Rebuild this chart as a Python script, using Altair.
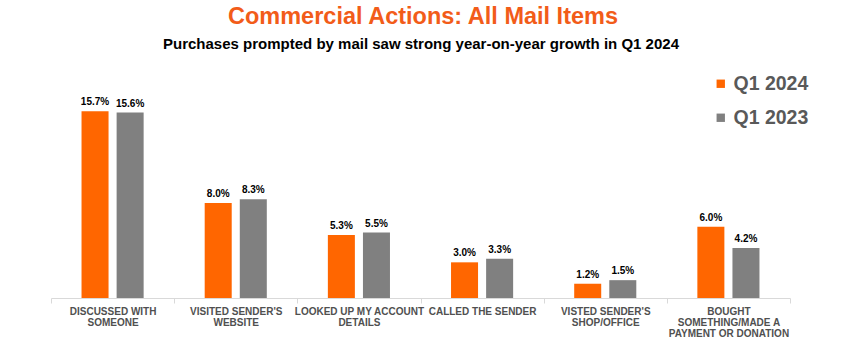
import altair as alt
import pandas as pd

categories = [
    "DISCUSSED WITH|SOMEONE",
    "VISITED SENDER'S|WEBSITE",
    "LOOKED UP MY ACCOUNT|DETAILS",
    "CALLED THE SENDER",
    "VISTED SENDER'S|SHOP/OFFICE",
    "BOUGHT|SOMETHING/MADE A|PAYMENT OR DONATION",
]
q1_2024 = [15.7, 8.0, 5.3, 3.0, 1.2, 6.0]
q1_2023 = [15.6, 8.3, 5.5, 3.3, 1.5, 4.2]
series = ["Q1 2024", "Q1 2023"]
colors = ["#FF6600", "#808080"]

rows = []
for c, a, b in zip(categories, q1_2024, q1_2023):
    rows.append({"cat": c, "series": series[0], "value": a, "label": f"{a:.1f}%"})
    rows.append({"cat": c, "series": series[1], "value": b, "label": f"{b:.1f}%"})
df = pd.DataFrame(rows)

FONT = "Liberation Sans"

base = alt.Chart(df).encode(
    x=alt.X(
        "cat:N",
        sort=categories,
        scale=alt.Scale(paddingInner=0, paddingOuter=0),
        axis=alt.Axis(
            title=None,
            labelAngle=0,
            labelExpr="split(datum.label, '|')",
            labelFont=FONT,
            labelFontWeight="bold",
            labelFontSize=10,
            labelColor="#505050",
            labelLineHeight=11,
            labelPadding=3,
            labelLimit=200,
            domainColor="#d9d9d9",
            tickColor="#d9d9d9",
            tickBand="extent",
            tickSize=5,
            labelBaseline="top",
        ),
    ),
    xOffset=alt.XOffset(
        "series:N",
        sort=series,
        scale=alt.Scale(paddingInner=0.23, paddingOuter=0.87),
    ),
    y=alt.Y(
        "value:Q",
        scale=alt.Scale(domain=[0, 18], nice=False),
        axis=None,
    ),
)

bars = base.mark_bar().encode(
    color=alt.Color(
        "series:N",
        sort=series,
        scale=alt.Scale(domain=series, range=colors),
        legend=alt.Legend(
            title=None,
            orient="none",
            legendX=660,
            legendY=-10,
            symbolType="square",
            symbolSize=70,
            symbolStrokeWidth=0,
            labelFont=FONT,
            labelFontSize=19.5,
            labelFontWeight="bold",
            labelColor="#595959",
            labelOffset=3,
            rowPadding=13,
            padding=0,
        ),
    )
)

labels = base.mark_text(
    baseline="bottom",
    dy=-4,
    font=FONT,
    fontSize=10,
    fontWeight="bold",
    color="#000000",
).encode(text="label:N")

subtitle = alt.Chart(pd.DataFrame({"t": ["Purchases prompted by mail saw strong year-on-year growth in Q1 2024"]})).mark_text(
    font=FONT, fontSize=15, fontWeight="bold", color="#000000", align="center", baseline="middle"
).encode(text="t:N", x=alt.value(370), y=alt.value(-40))

title = alt.Chart(pd.DataFrame({"t": ["Commercial Actions: All Mail Items"]})).mark_text(
    font=FONT, fontSize=23.5, fontWeight="bold", color="#F25C19", align="center", baseline="alphabetic"
).encode(text="t:N", x=alt.value(372), y=alt.value(-60))

chart = (
    alt.layer(bars, labels, subtitle, title)
    .properties(
        width=739,
        height=214,
        padding={"left": 51, "top": 84, "right": 70, "bottom": 54},
        autosize="none",
        background="white",
    )
    .configure_view(strokeWidth=0, stroke="transparent")
)

chart.save("out.html", embed_options={"renderer": "svg", "actions": False})
